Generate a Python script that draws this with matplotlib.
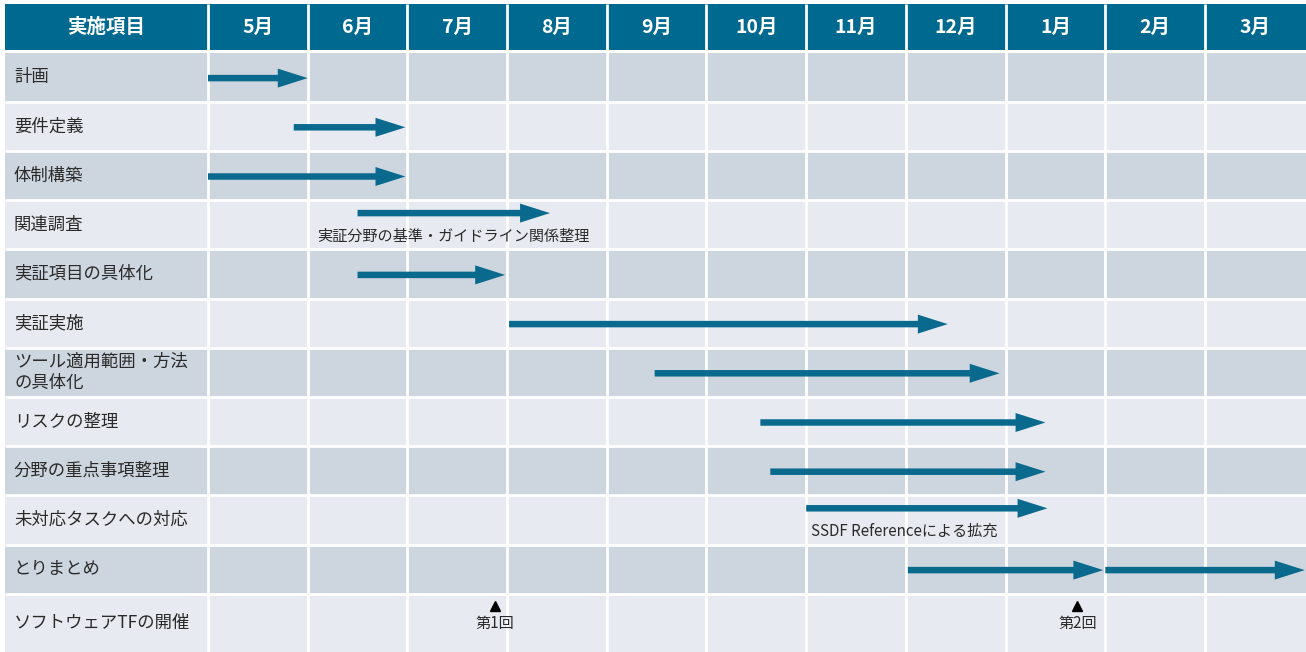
import matplotlib
matplotlib.use("Agg")
import matplotlib.pyplot as plt
from matplotlib.patches import Rectangle, FancyArrow

plt.rcParams['font.family'] = ['Noto Sans CJK JP', 'DejaVu Sans']

# ---- schedule data -------------------------------------------------------
header_label = "実施項目"
months = ["5月", "6月", "7月", "8月", "9月", "10月", "11月", "12月", "1月", "2月", "3月"]
tasks = ["計画", "要件定義", "体制構築", "関連調査", "実証項目の具体化", "実証実施",
         "ツール適用範囲・方法\nの具体化", "リスクの整理", "分野の重点事項整理",
         "未対応タスクへの対応", "とりまとめ", "ソフトウェアTFの開催"]
# bars: (task index, start month, end month) in month units from start of May
bar_task = [0, 1, 2, 3, 4, 5, 6, 7, 8, 9, 10, 10]
bar_start = [0.0, 0.86, 0.0, 1.5, 1.5, 3.02, 4.48, 5.54, 5.64, 6.0, 7.02, 9.0]
bar_end = [1.0, 1.98, 1.98, 3.43, 2.98, 7.42, 7.94, 8.4, 8.4, 8.42, 8.98, 11.0]
notes = {3: "実証分野の基準・ガイドライン関係整理", 9: "SSDF Referenceによる拡充"}
note_x = [1.1, 6.05]
meetings = ["第1回", "第2回"]
meeting_x = [2.88, 8.72]

# ---- layout ---------------------------------------------------------------
W, H = 1306, 652
col0 = 208          # pixel where month columns start
mw = 99.7           # pixel width of one month column
left = 5
header_top, header_bot = 4, 50
row_top = 52.5
row_h = 49.2
last_h = H - (row_top + row_h * (len(tasks) - 1))

dark = "#cdd5de"
light = "#e7ebf1"
blue = "#006990"
arrow_c = "#0a6a8e"
text_c = "#2a2a2a"

fig = plt.figure(figsize=(W / 100, H / 100), dpi=100)
ax = fig.add_axes([0, 0, 1, 1])
ax.set_xlim(-col0 / mw, (W - col0) / mw)
ax.set_ylim(H, 0)
ax.axis("off")

xl = (left - col0) / mw
xr = (W - col0) / mw

def row_bounds(i):
    top = row_top + row_h * i
    h = last_h if i == len(tasks) - 1 else row_h
    return top, h

# header
ax.add_patch(Rectangle((xl, header_top), xr - xl, header_bot - header_top,
                       facecolor=blue, edgecolor="none"))
ax.text((xl + 0) / 2, (header_top + header_bot) / 2, header_label, color="white",
        fontsize=14, fontweight="bold", ha="center", va="center")
for m, lab in enumerate(months):
    ax.text(m + 0.5, (header_top + header_bot) / 2, lab, color="white",
            fontsize=14, fontweight="bold", ha="center", va="center")

# rows
for i, t in enumerate(tasks):
    top, h = row_bounds(i)
    ax.add_patch(Rectangle((xl, top), xr - xl, h,
                           facecolor=dark if i % 2 == 0 else light, edgecolor="none"))
    ax.text(xl + 9 / mw, top + h / 2, t, fontsize=12.5, color=text_c,
            ha="left", va="center", linespacing=1.2)
    if i > 0:
        ax.plot([xl, xr], [top, top], color="white", lw=2, solid_capstyle="butt")

# vertical grid lines
for m in range(len(months)):
    ax.plot([m, m], [header_top, H], color="white", lw=2, solid_capstyle="butt")

# arrows
for k, (ti, s, e) in enumerate(zip(bar_task, bar_start, bar_end)):
    top, h = row_bounds(ti)
    yc = top + h / 2 + 1
    if ti in notes:
        yc = top + 13
    ax.add_patch(FancyArrow(s, yc, e - s, 0, width=6.5, head_width=19,
                            head_length=0.3, length_includes_head=True,
                            color=arrow_c, lw=0, zorder=4))

# notes under arrows
for (ti, txt), nx in zip(notes.items(), note_x):
    top, h = row_bounds(ti)
    ax.text(nx, top + 36, txt, fontsize=10.9, color=text_c, ha="left", va="center")

# meeting markers
top, h = row_bounds(len(tasks) - 1)
for mx, lab in zip(meeting_x, meetings):
    ax.plot(mx, top + 12, marker="^", color="black", markersize=7, lw=0, zorder=4)
    ax.text(mx, top + 30, lab, fontsize=10.9, color=text_c, ha="center", va="center")

fig.savefig("out.png", dpi=100, facecolor="white")
